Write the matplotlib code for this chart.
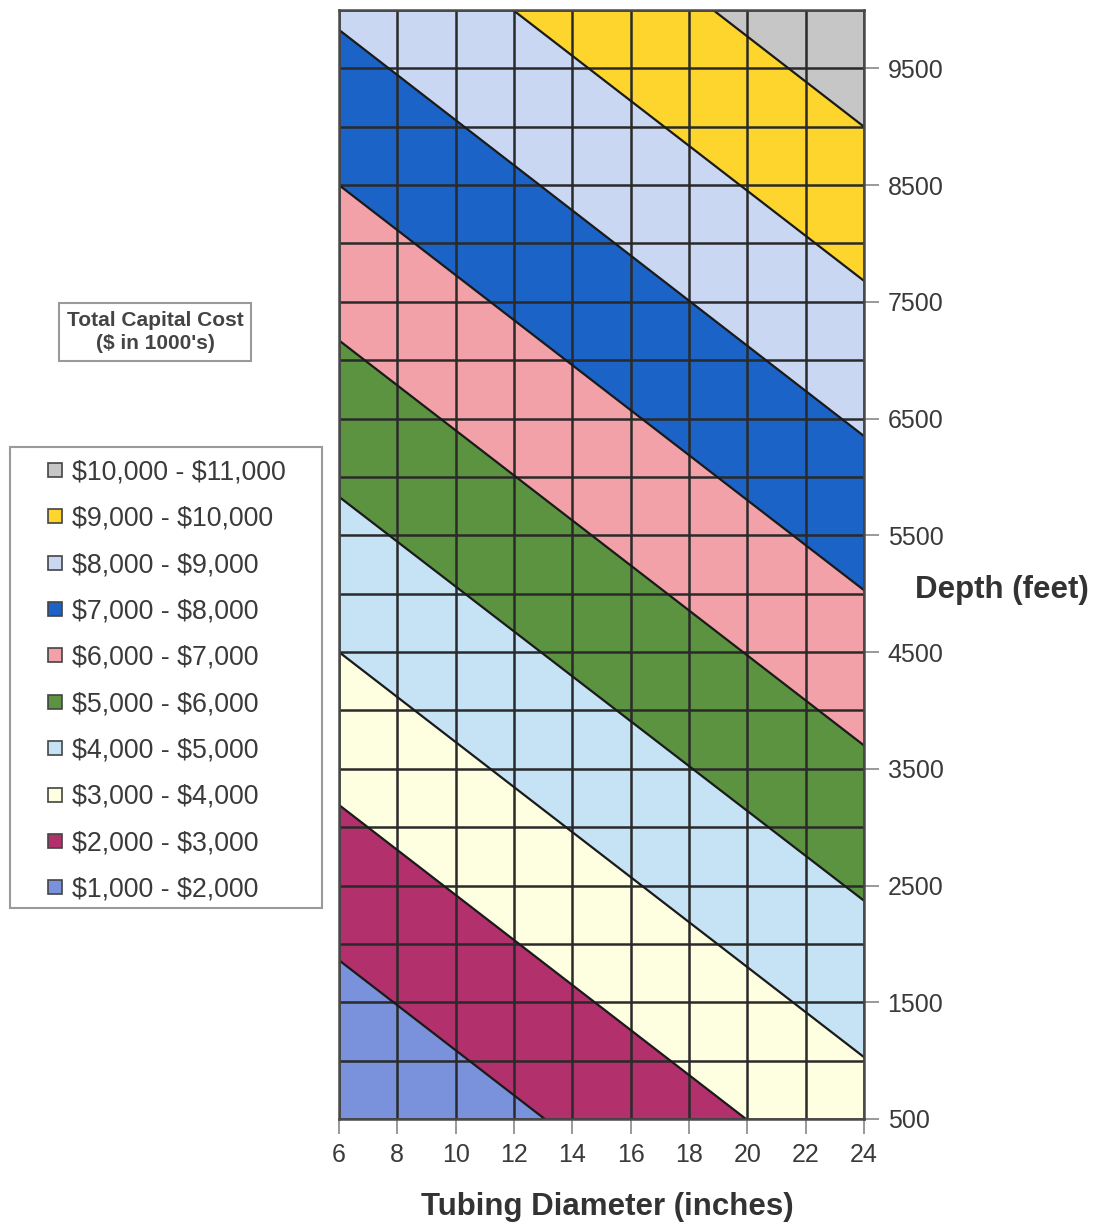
import matplotlib.pyplot as plt
import numpy as np
from matplotlib.lines import Line2D
from matplotlib.patches import Rectangle

plt.rcParams['font.family'] = ['Liberation Sans', 'DejaVu Sans']

# Datos
etiquetas = [r'\$1,000 - \$2,000', r'\$2,000 - \$3,000', r'\$3,000 - \$4,000', r'\$4,000 - \$5,000',
             r'\$5,000 - \$6,000', r'\$6,000 - \$7,000', r'\$7,000 - \$8,000', r'\$8,000 - \$9,000',
             r'\$9,000 - \$10,000', r'\$10,000 - \$11,000']
colores = ['#7a91dc', '#b2306c', '#fefee0', '#c6e2f5', '#5b9341',
           '#f3a1a9', '#1b63c6', '#c9d7f2', '#fdd52c', '#c6c6c6']

# Limites entre rangos de costo (profundidad en x=6 y en x=24, lineas rectas)
diametro_borde = [6, 24]
limite_en_6 = [1860, 3190, 4500, 5830, 7170, 8500, 9830, 11150, 12480]
limite_en_24 = [-1610, -280, 1030, 2370, 3700, 5030, 6350, 7680, 9000]

x_ticks = [6, 8, 10, 12, 14, 16, 18, 20, 22, 24]
y_ticks = [500, 1500, 2500, 3500, 4500, 5500, 6500, 7500, 8500, 9500]
y_min, y_max = 500, 10000

fig = plt.figure(figsize=(10.98, 12.28), dpi=100)
ax = fig.add_axes([339 / 1098, 1 - 1119 / 1228, 525 / 1098, 1109 / 1228])

# Bandas de color
inferior = [[y_min - 2000] * 2] + [[a, b] for a, b in zip(limite_en_6, limite_en_24)]
superior = [[a, b] for a, b in zip(limite_en_6, limite_en_24)] + [[y_max + 4000] * 2]
for low, up, c in zip(inferior, superior, colores):
    ax.fill_between(diametro_borde, low, up, color=c, lw=0, zorder=1)

# Lineas de limite
for a, b in zip(limite_en_6, limite_en_24):
    ax.plot(diametro_borde, [a, b], color='#1a1a1a', lw=1.6, zorder=3)

ax.set_xlim(6, 24)
ax.set_ylim(y_min, y_max)

ax.set_xticks(x_ticks)
ax.set_yticks(y_ticks)
ax.set_yticks(np.arange(1000, 10001, 1000), minor=True)
ax.yaxis.tick_right()
ax.tick_params(axis='both', which='major', length=11, width=1.2, color='#888888',
               labelsize=18, labelcolor='#3a3a3a', pad=6)
ax.tick_params(axis='both', which='minor', length=0)
ax.grid(True, which='both', color='#2a2a2a', lw=1.8, zorder=2)
ax.set_axisbelow(False)
for s in ax.spines.values():
    s.set_color('#4a4a4a')
    s.set_linewidth(1.8)
    s.set_zorder(4)

fig.text(1002 / 1098, 1 - 590 / 1228, 'Depth (feet)', ha='center', va='center',
         fontsize=22.5, fontweight='bold', color='#333333')
fig.text(607 / 1098, 1 - 1207 / 1228, 'Tubing Diameter (inches)', ha='center', va='center',
         fontsize=22.5, fontweight='bold', color='#333333')

fig.text(155 / 1098, 1 - 332 / 1228, "Total Capital Cost\n($ in 1000's)", ha='center',
         va='center', fontsize=15, fontweight='bold', color='#444444', linespacing=1.3,
         bbox=dict(boxstyle='square,pad=0.35', facecolor='white', edgecolor='#9a9a9a', lw=1.5))

# Leyenda (marco dibujado aparte)
fig.patches.append(Rectangle((10 / 1098, 1 - 908 / 1228), 312 / 1098, 461 / 1228,
                             transform=fig.transFigure, facecolor='white',
                             edgecolor='#9a9a9a', lw=1.5, zorder=0))
handles = [Line2D([], [], marker='s', linestyle='none', markersize=9.5,
                  markerfacecolor=c, markeredgecolor='#444444', markeredgewidth=1.2)
           for c in colores[::-1]]
leg = fig.legend(handles, etiquetas[::-1], loc='upper left',
                 bbox_to_anchor=(10 / 1098, 1 - 447 / 1228), borderaxespad=0,
                 fontsize=19.3, frameon=False, handlelength=2.47, handletextpad=-0.6,
                 labelspacing=0.76, borderpad=0.46)
for t in leg.get_texts():
    t.set_color('#3a3a3a')

fig.savefig('out.png', dpi=100)
